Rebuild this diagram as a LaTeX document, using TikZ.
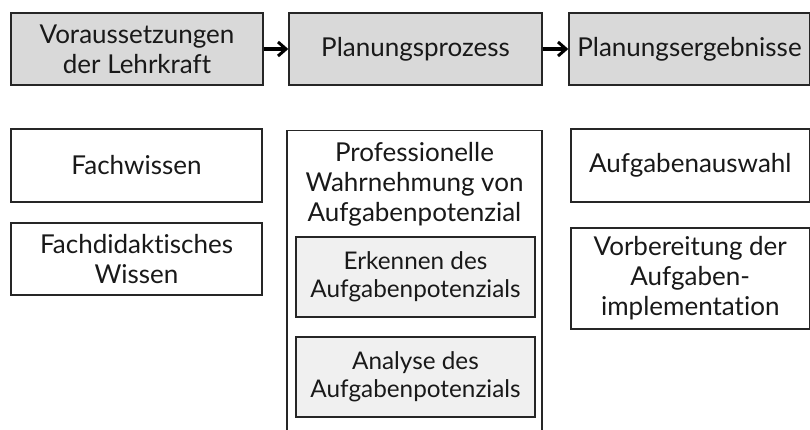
\documentclass[tikz,border=0pt]{standalone}
\usepackage{fontspec}
\setmainfont{Lato}[Ligatures=NoCommon]
\usetikzlibrary{arrows.meta}
\begin{document}
\begin{tikzpicture}[x=1pt,y=-1pt,
  box/.style={draw=black!85,line width=1.4pt,inner sep=0pt,align=center,
    text=black!90,font=\fontsize{26}{30}\selectfont},
  headbox/.style={box,fill=black!15},
  subbox/.style={box,fill=black!6,font=\fontsize{24.3}{28.5}\selectfont},
  flow/.style={-{Straight Barb[length=8pt,width=14pt,line width=3pt]},line width=3.6pt}]
\clip (0,0) rectangle (810,430);
\fill[white] (0,0) rectangle (810,430);
% top row: stages of the planning
\node[headbox,minimum width=252pt,minimum height=72pt] (v) at (137,49)
  {Voraussetzungen\\der Lehrkraft};
\node[headbox,minimum width=253pt,minimum height=72pt] (p) at (415.5,49)
  {Planungsprozess};
\node[headbox,minimum width=241pt,minimum height=72pt] (e) at (689.5,49)
  {Planungsergebnisse};
\draw[flow] (v.east) -- (p.west);
\draw[flow] (p.east) -- (e.west);
% left column
\node[box,minimum width=251pt,minimum height=73pt] (fw) at (136.5,165.5)
  {Fachwissen};
\node[box,minimum width=251pt,minimum height=72pt] (fd) at (136.5,259)
  {Fachdidaktisches\\Wissen};
% middle column, open at the bottom
\node[box,minimum width=255pt,minimum height=320pt,anchor=north] (pw) at (414.5,130) {};
\node[anchor=north,align=center,text=black!90,font=\fontsize{26}{30}\selectfont,inner sep=0pt] (pwt)
  at (414.5,142) {Professionelle\\Wahrnehmung von\\Aufgabenpotenzial};
\node[subbox,minimum width=239pt,minimum height=80pt] (ek) at (415.5,277)
  {Erkennen des\\Aufgabenpotenzials};
\node[subbox,minimum width=239pt,minimum height=80pt] (an) at (415.5,377)
  {Analyse des\\Aufgabenpotenzials};
% right column
\node[box,minimum width=238.5pt,minimum height=73pt] (aa) at (690.25,165.5)
  {Aufgabenauswahl};
\node[box,minimum width=238.5pt,minimum height=101pt] (vb) at (690.25,278.5)
  {Vorbereitung der\\Aufgaben-\\implementation};
\end{tikzpicture}
\end{document}
